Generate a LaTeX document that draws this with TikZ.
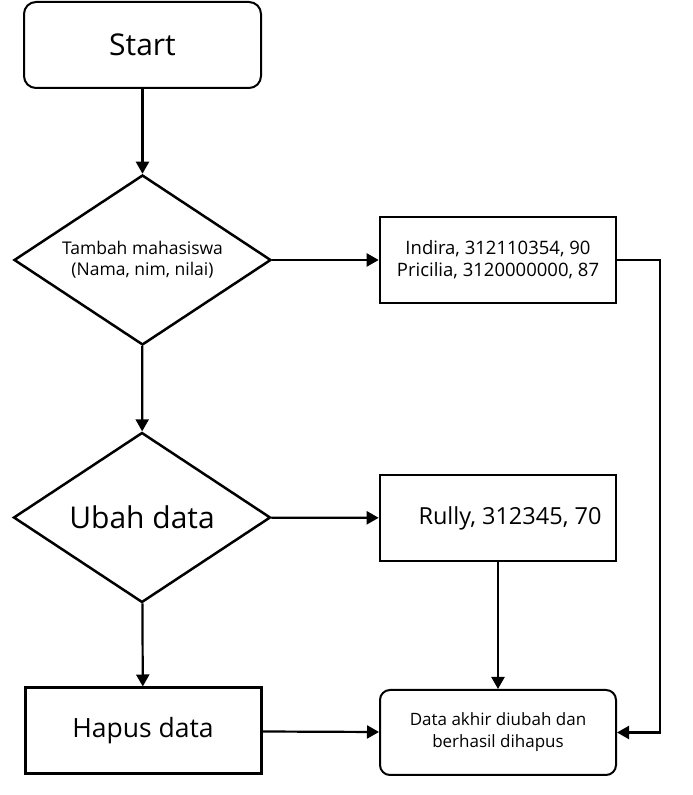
\documentclass[tikz,border=0pt]{standalone}
\usepackage{fontspec}
\setmainfont{Open Sans}
\usetikzlibrary{arrows.meta, shapes.geometric}

\begin{document}
\begin{tikzpicture}[x=1pt, y=1pt,
  arrow/.style={-{Triangle[length=12pt,width=13pt]}, line width=2.2pt},
  terminal/.style={draw, rounded corners=12pt, minimum width=237pt, minimum height=86pt, line width=2pt, align=center},
  decision/.style={draw, diamond, aspect=1.51, inner sep=0pt, minimum width=257pt, minimum height=170pt, line width=2.5pt, align=center},
  process/.style={draw, minimum width=236pt, minimum height=86pt, line width=2.6pt, align=center}]
\useasboundingbox (0,0) rectangle (693,795);
\fill[white] (0,0) rectangle (693,795);

% left column
\node[terminal, font={\fontsize{30}{36}\selectfont}] (start) at (142.5,750) {Start};
\node[decision, font={\fontsize{17.5}{21}\selectfont}] (tambah) at (142.5,535) {Tambah mahasiswa\\(Nama, nim, nilai)};
\node[decision, font={\fontsize{30}{36}\selectfont}] (ubah) at (142,277.5) {Ubah data};
\node[process, line width=3pt, font={\fontsize{26.5}{32}\selectfont}] (hapus) at (143,64) {Hapus data};

% right column
\node[process, font={\fontsize{18.5}{22}\selectfont}] (data1) at (498,535) {Indira, 312110354, 90\\Pricilia, 3120000000, 87};
\node[process, font={\fontsize{23.5}{28}\selectfont}] (data2) at (498,277) {\hspace*{24pt}Rully, 312345, 70};
\node[terminal, rounded corners=10pt, minimum width=236pt, minimum height=85pt, font={\fontsize{17}{22}\selectfont}] (akhir) at (498,62.5) {Data akhir diubah dan\\berhasil dihapus};
\coordinate (turn) at (660,535);

% connectors
\draw[arrow] (start) -- (tambah);
\draw[arrow] (tambah) -- (ubah);
\draw[arrow] (ubah) -- (hapus);
\draw[arrow] (tambah) -- (data1);
\draw[arrow] (ubah) -- (data2);
\draw[arrow] (data2) -- (akhir);
\draw[arrow] (hapus) -- (akhir);
\draw[arrow] (data1.east) -- (turn) |- (akhir.east);
\end{tikzpicture}
\end{document}
